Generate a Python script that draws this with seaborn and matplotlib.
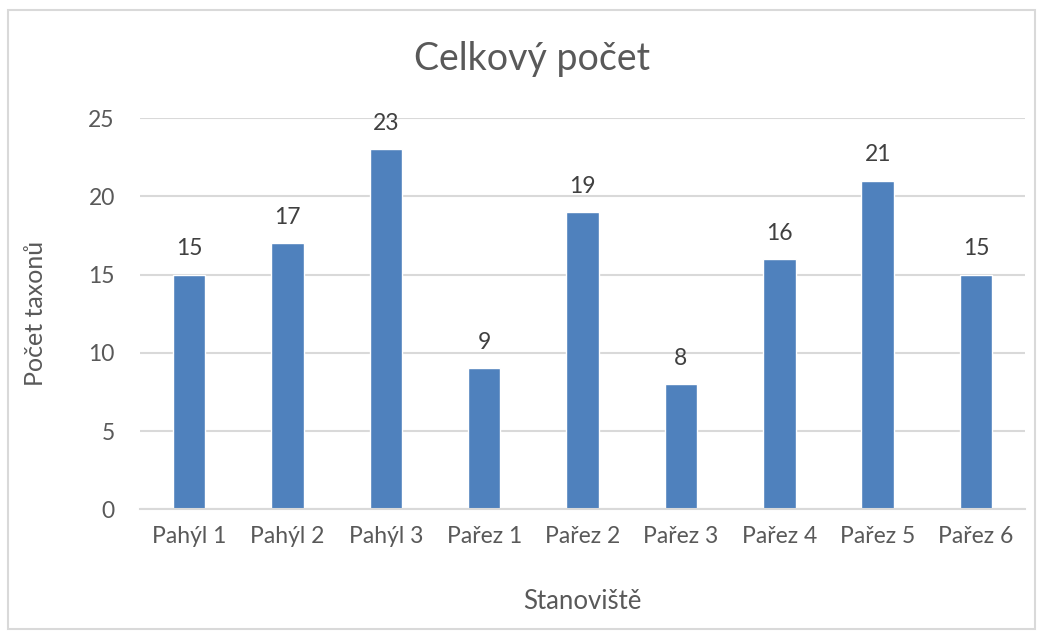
import matplotlib
matplotlib.use("Agg")
import matplotlib.pyplot as plt
import seaborn as sns
import pandas as pd

categories = ["Pahýl 1", "Pahýl 2", "Pahýl 3", "Pařez 1", "Pařez 2",
              "Pařez 3", "Pařez 4", "Pařez 5", "Pařez 6"]
counts = [15, 17, 23, 9, 19, 8, 16, 21, 15]
y_ticks = [0, 5, 10, 15, 20, 25]

sns.set_style("white")
plt.rcParams["font.family"] = ["Lato", "DejaVu Sans"]

df = pd.DataFrame({"stanoviste": categories, "pocet": counts})

fig = plt.figure(figsize=(10.43, 6.35), dpi=100)
ax = fig.add_axes([0.134, 0.198, 0.849, 0.616])

sns.barplot(data=df, x="stanoviste", y="pocet", color="#4F81BD",
            saturation=1, width=0.33, ax=ax)

ax.set_ylim(0, 25)
ax.set_yticks(y_ticks)
ax.yaxis.grid(True, color="#D9D9D9", linewidth=1.5)
ax.set_axisbelow(True)
for s in ["top", "right", "left"]:
    ax.spines[s].set_visible(False)
ax.spines["bottom"].set_color("#D9D9D9")
ax.spines["bottom"].set_linewidth(1.5)
ax.tick_params(length=0, labelsize=16.5, labelcolor="#595959")
ax.tick_params(axis="x", pad=12)
ax.tick_params(axis="y", pad=18)

ax.bar_label(ax.containers[0], fontsize=16.5, color="#404040", padding=11)

ax.set_xlabel("Stanoviště", fontsize=18.5, color="#595959", labelpad=30)
ax.set_ylabel("Počet taxonů", fontsize=18, color="#595959", labelpad=30)
fig.suptitle("Celkový počet", fontsize=27, color="#595959", x=0.51, y=0.935)

# chart border
fig.patches.append(plt.Rectangle((0.008, 0.01), 0.984, 0.975, transform=fig.transFigure,
                                 fill=False, edgecolor="#D9D9D9", linewidth=1.5))

fig.savefig("out.png", dpi=100)
